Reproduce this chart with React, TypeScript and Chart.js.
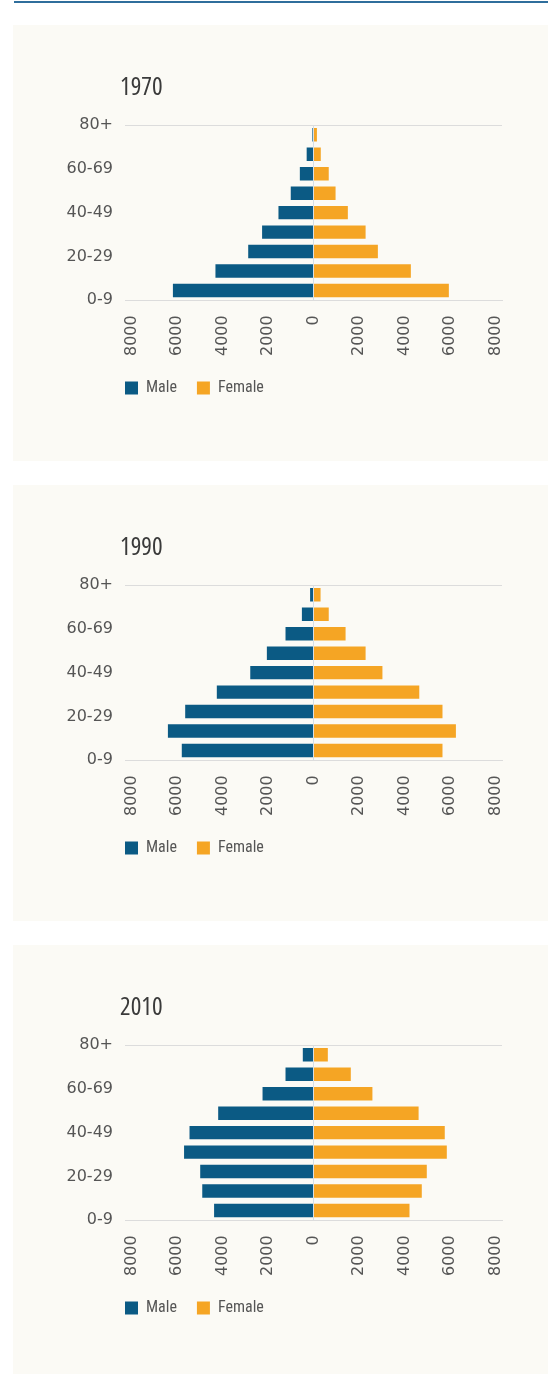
import React, { useEffect, useRef } from "react";
import { Chart, registerables } from "chart.js";

Chart.register(...registerables);

// ---- Data ----
const AGE_GROUPS = ["80+", "70-79", "60-69", "50-59", "40-49", "30-39", "20-29", "10-19", "0-9"];
const X_TICKS = [-8000, -6000, -4000, -2000, 0, 2000, 4000, 6000, 8000];
const SERIES_LABELS = ["Male", "Female"];

const YEAR_1970 = "1970";
const MALE_1970 = [50, 300, 600, 1000, 1540, 2260, 2870, 4310, 6180];
const FEMALE_1970 = [150, 320, 670, 970, 1510, 2290, 2830, 4280, 5950];

const YEAR_1990 = "1990";
const MALE_1990 = [150, 510, 1230, 2050, 2780, 4250, 5640, 6400, 5790];
const FEMALE_1990 = [310, 670, 1410, 2290, 3030, 4650, 5670, 6260, 5670];

const YEAR_2010 = "2010";
const MALE_2010 = [470, 1230, 2240, 4190, 5450, 5690, 4980, 4890, 4370];
const FEMALE_2010 = [630, 1640, 2590, 4620, 5770, 5860, 4980, 4760, 4220];

// ---- Styles ----
const MALE_COLOR = "#0b5a84";
const FEMALE_COLOR = "#f5a524";
const PANEL_BG = "#fbfaf5";
const LINE_COLOR = "#dcdcdc";
const ZERO_LINE_COLOR = "#d6dee4";
const TEXT_COLOR = "#555555";
const TITLE_COLOR = "#3a3a3a";
const TICK_FONT = '"DejaVu Sans", sans-serif';

const PANEL_W = 535;
const PANEL_H = 436;
const LEGEND_PAD = 20;
const LEGEND_LIFT = 11;
const TITLE_NUDGE = 5;

// fine-tune positions of the chart-area aligned legend and title
const boxNudge = {
  id: "boxNudge",
  afterLayout(chart: any) {
    const lg = chart.legend;
    if (lg) {
      lg.left -= LEGEND_PAD;
      lg.right -= LEGEND_PAD;
      lg.top -= LEGEND_LIFT;
      lg.bottom -= LEGEND_LIFT;
    }
    const tb = chart.titleBlock;
    if (tb) {
      tb.left -= TITLE_NUDGE;
      tb.right -= TITLE_NUDGE;
    }
  },
};

function Pyramid({ title, male, female }: { title: string; male: number[]; female: number[] }) {
  const ref = useRef<HTMLCanvasElement | null>(null);

  useEffect(() => {
    if (!ref.current) return;
    const chart = new Chart(ref.current, {
      type: "bar",
      data: {
        labels: AGE_GROUPS,
        datasets: [
          {
            label: SERIES_LABELS[0],
            data: male.map((v) => -v),
            backgroundColor: MALE_COLOR,
            barPercentage: 0.69,
            categoryPercentage: 1,
            stack: "pop",
          },
          {
            label: SERIES_LABELS[1],
            data: female,
            backgroundColor: FEMALE_COLOR,
            barPercentage: 0.69,
            categoryPercentage: 1,
            stack: "pop",
          },
        ],
      },
      plugins: [boxNudge],
      options: {
        animation: false,
        responsive: false,
        devicePixelRatio: 1,
        indexAxis: "y",
        layout: { padding: { left: 52, right: 46, top: 0, bottom: 44 } },
        plugins: {
          title: {
            display: true,
            text: title,
            align: "start",
            fullSize: false,
            color: TITLE_COLOR,
            font: { family: '"Open Sans", sans-serif', size: 25, weight: "400 condensed", lineHeight: 1 },
            padding: { top: 50, bottom: 25 },
          },
          legend: {
            position: "bottom",
            align: "start",
            fullSize: false,
            labels: {
              boxWidth: 13,
              boxHeight: 13,
              padding: LEGEND_PAD,
              color: TEXT_COLOR,
              font: { family: "Roboto, sans-serif", size: 16, weight: "400 condensed" },
            },
          },
          tooltip: { enabled: false },
        },
        scales: {
          x: {
            type: "linear",
            stacked: true,
            min: -8286,
            max: 8286,
            afterBuildTicks: (s: any) => {
              s.ticks = X_TICKS.map((v) => ({ value: v }));
            },
            grid: {
              display: true,
              drawTicks: false,
              color: (ctx: any) => (ctx.tick && ctx.tick.value === 0 ? ZERO_LINE_COLOR : "rgba(0,0,0,0)"),
            },
            border: { display: true, color: LINE_COLOR, width: 1 },
            ticks: {
              autoSkip: false,
              minRotation: 90,
              maxRotation: 90,
              padding: 15,
              color: TEXT_COLOR,
              font: { family: TICK_FONT, size: 16 },
              callback: (v: any) => String(Math.abs(Number(v))),
            },
          },
          y: {
            type: "category",
            stacked: true,
            offset: true,
            position: "left",
            ticks: { display: false },
            grid: {
              drawTicks: false,
              color: (ctx: any) => (ctx.index === 0 ? LINE_COLOR : "rgba(0,0,0,0)"),
            },
            border: { display: false },
            afterFit: (s: any) => {
              s.width = 0;
            },
          },
          y2: {
            type: "category",
            position: "left",
            offset: false,
            grid: { display: false, drawTicks: false },
            border: { display: false },
            ticks: {
              autoSkip: false,
              padding: 12,
              color: TEXT_COLOR,
              font: { family: TICK_FONT, size: 16 },
              callback: (_v: any, i: number) => (i % 2 === 0 ? AGE_GROUPS[i] : ""),
            },
            afterFit: (s: any) => {
              s.width = 60;
            },
          },
        },
      } as any,
    });
    return () => chart.destroy();
  }, [title, male, female]);

  return <canvas ref={ref} width={PANEL_W} height={PANEL_H} style={{ display: "block" }} />;
}

export default function App() {
  const panels = [
    { title: YEAR_1970, male: MALE_1970, female: FEMALE_1970, top: 25 },
    { title: YEAR_1990, male: MALE_1990, female: FEMALE_1990, top: 485 },
    { title: YEAR_2010, male: MALE_2010, female: FEMALE_2010, top: 945 },
  ];
  return (
    <div style={{ position: "absolute", left: 0, top: 0, width: 548, height: 1374, background: "#ffffff", overflow: "hidden" }}>
      <div style={{ position: "absolute", left: 14, top: 1, width: 534, height: 2, background: "#2f6e9c" }} />
      {panels.map((p) => (
        <div
          key={p.title}
          style={{ position: "absolute", left: 13, top: p.top, width: PANEL_W, height: PANEL_H, background: PANEL_BG }}
        >
          <Pyramid title={p.title} male={p.male} female={p.female} />
        </div>
      ))}
    </div>
  );
}
